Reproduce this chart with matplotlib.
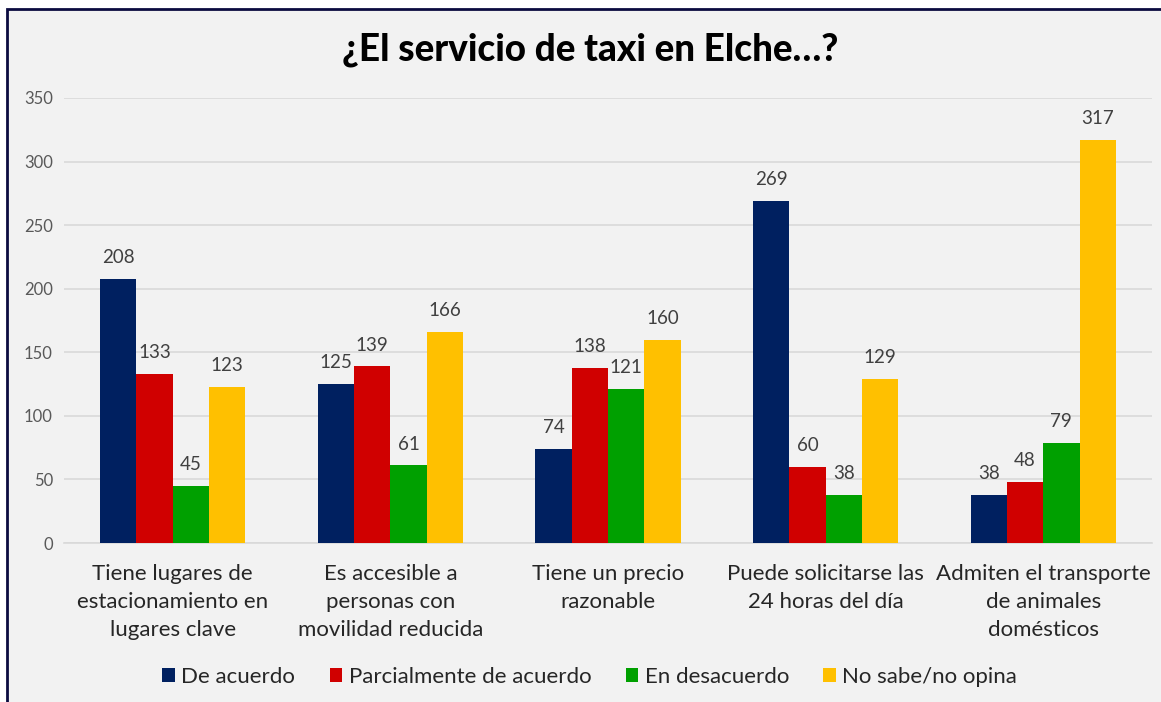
import numpy as np
import matplotlib.pyplot as plt
from matplotlib.patches import Rectangle

plt.rcParams['font.family'] = ['Lato', 'DejaVu Sans']

categories = ['Tiene lugares de\nestacionamiento en\nlugares clave',
              'Es accesible a\npersonas con\nmovilidad reducida',
              'Tiene un precio\nrazonable',
              'Puede solicitarse las\n24 horas del día',
              'Admiten el transporte\nde animales\ndomésticos']
series = ['De acuerdo', 'Parcialmente de acuerdo', 'En desacuerdo', 'No sabe/no opina']
de_acuerdo = [208, 125, 74, 269, 38]
parcialmente = [133, 139, 138, 60, 48]
desacuerdo = [45, 61, 121, 38, 79]
no_sabe = [123, 166, 160, 129, 317]
colors = ['#002060', '#D00000', '#00A000', '#FFC000']

values = [de_acuerdo, parcialmente, desacuerdo, no_sabe]

fig = plt.figure(figsize=(11.61, 7.02), dpi=100)
fig.patch.set_facecolor('white')
# chart area background + frame (cut off at right and bottom like the reference)
fig.patches.append(Rectangle((7 / 1161, -0.05), 1.1, 1.05 - 9 / 702,
                             transform=fig.transFigure, facecolor='#F2F2F2',
                             edgecolor='#0B0B40', linewidth=2, zorder=-10))

ax = fig.add_axes([64 / 1161, 1 - 543 / 702, (1152 - 64) / 1161, (543 - 98) / 702])
ax.set_facecolor('none')

x = np.arange(len(categories))
w = 0.167
for i, (vals, name, c) in enumerate(zip(values, series, colors)):
    pos = x + (i - 1.5) * w
    ax.bar(pos, vals, w, color=c, label=name, zorder=3)
    for xp, v in zip(pos, vals):
        ax.text(xp, v + 10, str(v), ha='center', va='bottom', fontsize=13.5, color='#404040')

ax.set_xlim(-0.5, len(categories) - 0.5)
ax.set_ylim(0, 350)
ax.set_yticks(range(0, 351, 50))
ax.yaxis.grid(True, color='#D9D9D9', linewidth=1.2, zorder=0)
ax.set_axisbelow(True)
for s in ['top', 'right', 'left']:
    ax.spines[s].set_visible(False)
ax.spines['bottom'].set_color('#D9D9D9')
ax.spines['bottom'].set_linewidth(1.2)
ax.tick_params(axis='y', length=0, labelsize=12, labelcolor='#595959', pad=8)
ax.tick_params(axis='x', length=0, labelsize=16, labelcolor='#262626', pad=15)
ax.set_xticks(x)
ax.set_xticklabels(categories, linespacing=1.5)

fig.text(0.508, 1 - 50 / 702, '¿El servicio de taxi en Elche…?', ha='center', va='center',
         fontsize=26.5, fontweight='black', color='black')

fig.legend(loc='center', bbox_to_anchor=(0.508, 1 - 677 / 702), ncol=4, frameon=False,
           fontsize=16, handlelength=0.55, handleheight=0.55, columnspacing=1.55,
           handletextpad=0.3, labelcolor='#262626')

plt.savefig('out.png', dpi=100)
